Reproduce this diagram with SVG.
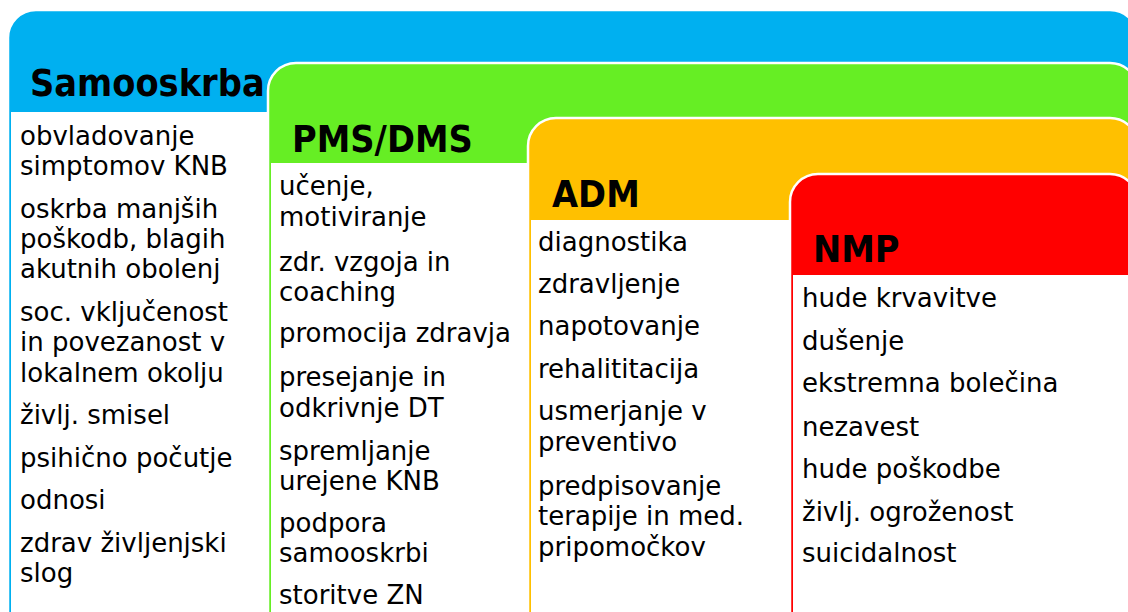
<svg xmlns="http://www.w3.org/2000/svg" width="1128" height="612" viewBox="0 0 1128 612">
<style>
.panel{stroke:#ffffff;stroke-width:2.5}
.content{fill:#ffffff}
.h{font-family:'DejaVu Sans Condensed','DejaVu Sans',sans-serif;font-weight:bold;font-size:37.5px;font-stretch:condensed;fill:#000000}
.t{font-family:'DejaVu Sans',sans-serif;font-size:26px;fill:#000000}
</style>
<rect x="0" y="0" width="1128" height="612" fill="#ffffff"/>
<g id="samooskrba">
<rect class="panel" x="8" y="10" width="1130" height="640" rx="28" fill="#00B0F0"/>
<rect class="content" x="11" y="112" width="1130" height="520"/>
<text class="h" x="30" y="96">Samooskrba</text>
<text class="t">
<tspan x="20" y="145">obvladovanje</tspan>
<tspan x="20" y="175">simptomov KNB</tspan>
<tspan x="20" y="218">oskrba manjših</tspan>
<tspan x="20" y="248">poškodb, blagih</tspan>
<tspan x="20" y="278">akutnih obolenj</tspan>
<tspan x="20" y="321">soc. vključenost</tspan>
<tspan x="20" y="351">in povezanost v</tspan>
<tspan x="20" y="382">lokalnem okolju</tspan>
<tspan x="20" y="424">življ. smisel</tspan>
<tspan x="20" y="467">psihično počutje</tspan>
<tspan x="20" y="509">odnosi</tspan>
<tspan x="20" y="552">zdrav življenjski</tspan>
<tspan x="20" y="582">slog</tspan>
</text>
</g>
<g id="pms-dms">
<rect class="panel" x="268" y="63" width="870" height="600" rx="28" fill="#66EE24"/>
<rect class="content" x="271" y="163" width="870" height="480"/>
<text class="h" x="292" y="152">PMS/DMS</text>
<text class="t">
<tspan x="279" y="195">učenje,</tspan>
<tspan x="279" y="226">motiviranje</tspan>
<tspan x="279" y="271">zdr. vzgoja in</tspan>
<tspan x="279" y="301">coaching</tspan>
<tspan x="279" y="342">promocija zdravja</tspan>
<tspan x="279" y="386">presejanje in</tspan>
<tspan x="279" y="417">odkrivnje DT</tspan>
<tspan x="279" y="460">spremljanje</tspan>
<tspan x="279" y="490">urejene KNB</tspan>
<tspan x="279" y="532">podpora</tspan>
<tspan x="279" y="562">samooskrbi</tspan>
<tspan x="279" y="604">storitve ZN</tspan>
</text>
</g>
<g id="adm">
<rect class="panel" x="528" y="118" width="610" height="560" rx="28" fill="#FFC000"/>
<rect class="content" x="531" y="220" width="610" height="420"/>
<text class="h" x="552" y="207">ADM</text>
<text class="t">
<tspan x="538" y="251">diagnostika</tspan>
<tspan x="538" y="293">zdravljenje</tspan>
<tspan x="538" y="335">napotovanje</tspan>
<tspan x="538" y="378">rehalititacija</tspan>
<tspan x="538" y="420">usmerjanje v</tspan>
<tspan x="538" y="451">preventivo</tspan>
<tspan x="538" y="495">predpisovanje</tspan>
<tspan x="538" y="525">terapije in med.</tspan>
<tspan x="538" y="556">pripomočkov</tspan>
</text>
</g>
<g id="nmp">
<rect class="panel" x="790" y="174" width="348" height="500" rx="28" fill="#FF0000"/>
<rect class="content" x="793" y="275" width="348" height="360"/>
<text class="h" x="813" y="262">NMP</text>
<text class="t">
<tspan x="802" y="307">hude krvavitve</tspan>
<tspan x="802" y="350">dušenje</tspan>
<tspan x="802" y="392">ekstremna bolečina</tspan>
<tspan x="802" y="436">nezavest</tspan>
<tspan x="802" y="478">hude poškodbe</tspan>
<tspan x="802" y="521">življ. ogroženost</tspan>
<tspan x="802" y="562">suicidalnost</tspan>
</text>
</g>
</svg>
